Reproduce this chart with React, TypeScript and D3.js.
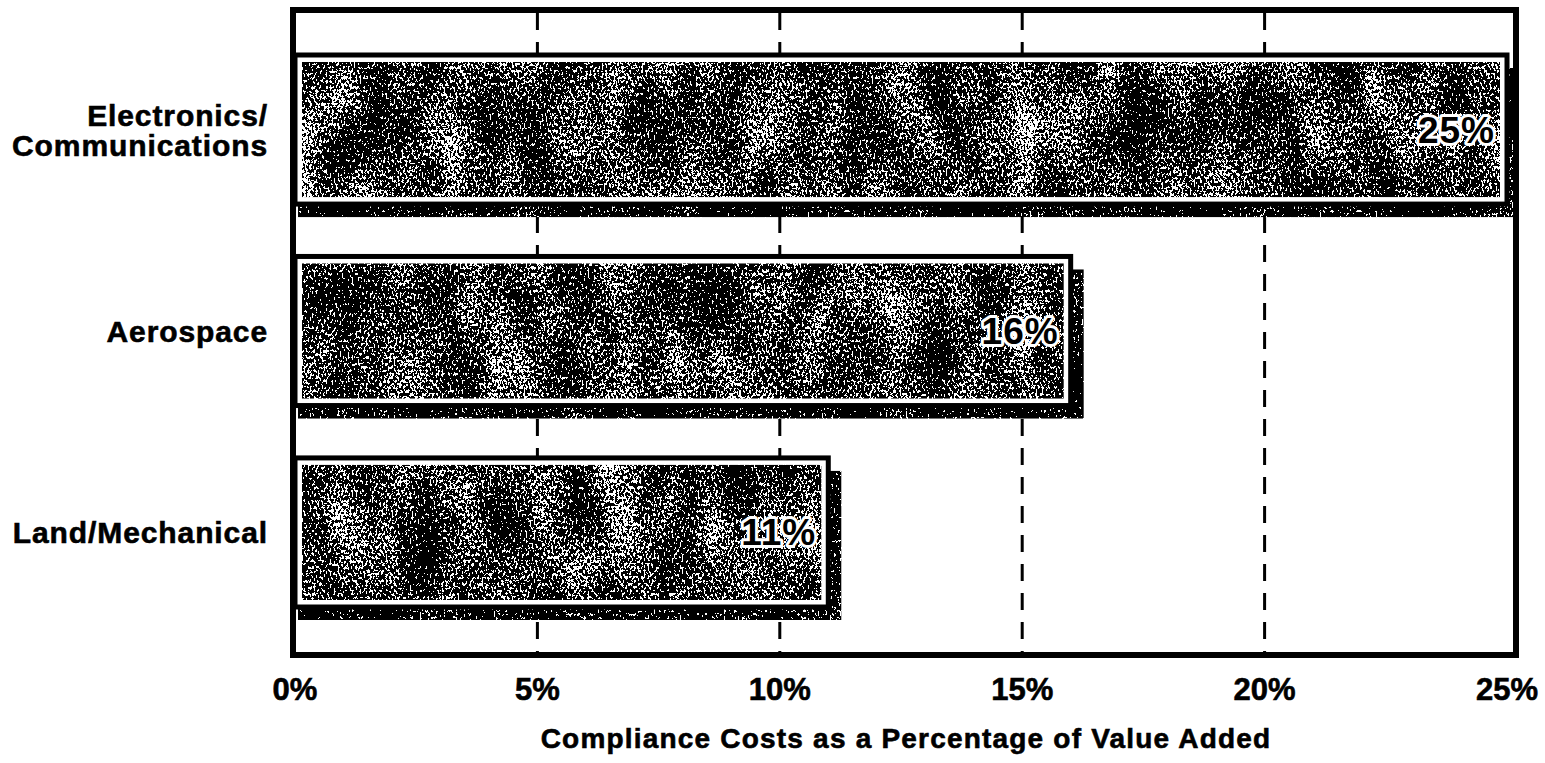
import React from "react";
import * as d3 from "d3";

// Chart data
const categories = ["Electronics/Communications", "Aerospace", "Land/Mechanical"];
const categoryLines = [["Electronics/", "Communications"], ["Aerospace"], ["Land/Mechanical"]];
const values = [25, 16, 11];
const tickValues = [0, 5, 10, 15, 20, 25];
const gridValues = [5, 10, 15, 20];
const axisTitle = "Compliance Costs as a Percentage of Value Added";

const W = 1545;
const H = 763;
const FONT = "'Liberation Sans', Arial, Helvetica, sans-serif";

const frame = { x: 293, y: 10, w: 1223, h: 645, sw: 6 };

export default function App() {
  const x = d3.scaleLinear().domain([0, 25]).range([295, 1507]);
  const y = d3
    .scaleBand<string>()
    .domain(categories)
    .range([55, 607])
    .paddingInner(0.26)
    .paddingOuter(0);
  const bw = y.bandwidth();
  const shadow = 13;
  const border = 5;
  const inset = 7;

  return (
    <svg
      width={W}
      height={H}
      viewBox={`0 0 ${W} ${H}`}
      style={{ position: "absolute", left: 0, top: 0, display: "block", background: "#fff" }}
    >
      <defs>
        <clipPath id="plotArea">
          <rect
            x={frame.x}
            y={frame.y}
            width={frame.w}
            height={frame.h}
          />
        </clipPath>
        {[
          { id: "grain", k4: -0.25, seed: 7 },
          { id: "grainDark", k4: -0.36, seed: 11 },
        ].map((f) => (
          <filter
            key={f.id}
            id={f.id}
            x="0"
            y="0"
            width="1"
            height="1"
            colorInterpolationFilters="sRGB"
          >
            <feTurbulence type="fractalNoise" baseFrequency="0.5 0.3" numOctaves={3} seed={f.seed} result="fineRaw" />
            <feColorMatrix
              in="fineRaw"
              type="matrix"
              values="1 0 0 0 0  1 0 0 0 0  1 0 0 0 0  0 0 0 0 1"
              result="fine"
            />
            <feTurbulence type="fractalNoise" baseFrequency="0.025 0.012" numOctaves={2} seed={f.seed + 3} result="coarseRaw" />
            <feColorMatrix
              in="coarseRaw"
              type="matrix"
              values="1 0 0 0 0  1 0 0 0 0  1 0 0 0 0  0 0 0 0 1"
              result="coarse"
            />
            <feComposite in="fine" in2="coarse" operator="arithmetic" k1="0" k2="1" k3="0.35" k4={f.k4} result="mix" />
            <feComponentTransfer in="mix" result="bw">
              <feFuncR type="discrete" tableValues="0 0 0 0 0 1 1 1 1 1" />
              <feFuncG type="discrete" tableValues="0 0 0 0 0 1 1 1 1 1" />
              <feFuncB type="discrete" tableValues="0 0 0 0 0 1 1 1 1 1" />
              <feFuncA type="discrete" tableValues="1" />
            </feComponentTransfer>
            <feComposite in="bw" in2="SourceGraphic" operator="in" />
          </filter>
        ))}
      </defs>

      {/* dashed vertical gridlines */}
      {gridValues.map((g) => (
        <line
          key={g}
          x1={x(g)}
          x2={x(g)}
          y1={frame.y + 3}
          y2={frame.y + frame.h - 3}
          stroke="#000"
          strokeWidth={3}
          strokeDasharray="17 12"
        />
      ))}

      {/* bars: drop shadow, bordered frame, grainy fill */}
      <g clipPath="url(#plotArea)">
        {categories.map((c, i) => {
          const x0 = x(0);
          const x1 = x(values[i]);
          const y0 = y(c)!;
          return (
            <g key={c}>
              <rect
                x={x0 + 3}
                y={y0 + shadow}
                width={x1 - x0 + shadow - 3}
                height={bw}
                fill="#000"
                filter="url(#grainDark)"
              />
              <rect
                x={x0}
                y={y0}
                width={x1 - x0}
                height={bw}
                fill="#fff"
                stroke="#000"
                strokeWidth={border}
              />
              <rect
                x={x0 + inset}
                y={y0 + inset}
                width={x1 - x0 - inset * 2}
                height={bw - inset * 2}
                fill="#000"
                filter="url(#grain)"
              />
            </g>
          );
        })}
      </g>

      {/* value labels */}
      {categories.map((c, i) => (
        <text
          key={c}
          x={x(values[i]) - 12}
          y={y(c)! + bw / 2 + 13}
          textAnchor="end"
          fontFamily={FONT}
          fontWeight="bold"
          fontSize={37}
          letterSpacing={1}
          fill="#000"
          stroke="#fff"
          strokeWidth={6}
          strokeLinejoin="round"
          style={{ paintOrder: "stroke" }}
        >
          {`${values[i]}%`}
        </text>
      ))}

      {/* plot frame */}
      <rect
        x={frame.x}
        y={frame.y}
        width={frame.w}
        height={frame.h}
        fill="none"
        stroke="#000"
        strokeWidth={frame.sw}
      />

      {/* category labels */}
      {categories.map((c, i) => {
        const lines = categoryLines[i];
        const cy = y(c)! + bw / 2;
        const lh = 30;
        const first = cy + 11 - ((lines.length - 1) * lh) / 2;
        return (
          <text
            key={c}
            textAnchor="end"
            fontFamily={FONT}
            fontWeight="bold"
            fontSize={30}
            letterSpacing={0.9}
            fill="#000"
            stroke="#000"
            strokeWidth={0.6}
          >
            {lines.map((l, j) => (
              <tspan key={l} x={268} y={first + j * lh}>
                {l}
              </tspan>
            ))}
          </text>
        );
      })}

      {/* x-axis tick labels */}
      {tickValues.map((t) => (
        <text
          key={t}
          x={x(t)}
          y={700}
          textAnchor="middle"
          fontFamily={FONT}
          fontWeight="bold"
          fontSize={31}
          fill="#000"
          stroke="#000"
          strokeWidth={0.6}
        >
          {`${t}%`}
        </text>
      ))}

      {/* x-axis title */}
      <text
        x={906}
        y={748}
        textAnchor="middle"
        fontFamily={FONT}
        fontWeight="bold"
        fontSize={28}
        letterSpacing={1.2}
        fill="#000"
        stroke="#000"
        strokeWidth={0.6}
      >
        {axisTitle}
      </text>
    </svg>
  );
}
